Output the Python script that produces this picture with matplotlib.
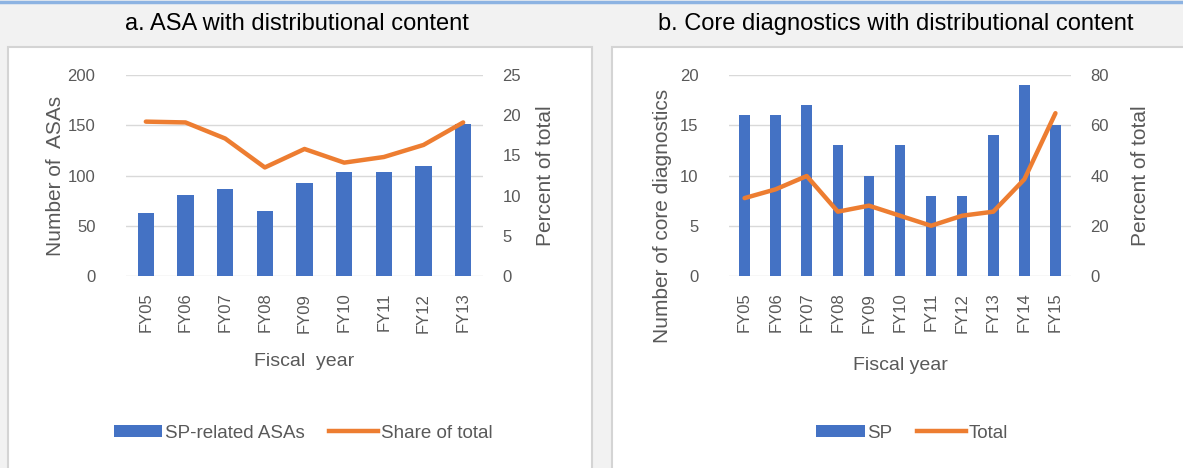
import matplotlib.pyplot as plt
from matplotlib.patches import Rectangle
from matplotlib.lines import Line2D
from matplotlib import font_manager

# --- data ---
years_a = ["FY05", "FY06", "FY07", "FY08", "FY09", "FY10", "FY11", "FY12", "FY13"]
asa_counts = [63, 81, 87, 65, 93, 103, 103, 109, 151]
asa_share = [19.2, 19.1, 17.1, 13.5, 15.8, 14.1, 14.8, 16.3, 19.1]

years_b = ["FY05", "FY06", "FY07", "FY08", "FY09", "FY10", "FY11", "FY12",
           "FY13", "FY14", "FY15"]
diag_counts = [16, 16, 17, 13, 10, 13, 8, 8, 14, 19, 15]
diag_share = [31.0, 34.5, 39.8, 25.6, 28.0, 24.0, 20.0, 24.0, 25.6, 38.5, 64.8]

BLUE = "#4472c4"
ORANGE = "#ed7d31"
GRAY = "#595959"
GRID = "#d9d9d9"

names = {f.name for f in font_manager.fontManager.ttflist}
narrow = "Liberation Sans Narrow" if "Liberation Sans Narrow" in names else "Liberation Sans"
plt.rcParams["font.family"] = [narrow, "DejaVu Sans"]

W, H = 1183, 468
fig = plt.figure(figsize=(W / 100, H / 100), dpi=100)
fig.patch.set_facecolor("#f2f2f2")


def px_axes(x0, y0, x1, y1):
    ax = fig.add_axes([x0 / W, 1 - y1 / H, (x1 - x0) / W, (y1 - y0) / H])
    ax.set_facecolor("none")
    return ax


# panel backgrounds and top rule
for x0, x1 in [(8, 592), (612, 1190)]:
    fig.patches.append(Rectangle((x0 / W, -0.01), (x1 - x0) / W, 1.01 - 47 / H,
                                 transform=fig.transFigure, facecolor="white",
                                 edgecolor="#d4d4d4", linewidth=1.5, zorder=-5))
fig.add_artist(Line2D([0, 1], [1 - 1.5 / H, 1 - 1.5 / H], transform=fig.transFigure,
                      color="#8db3e2", linewidth=2.5))


def draw_panel(ax, cats, counts, share, ymax, ystep, y2max, y2step, bar_w,
               ylabel, xlabel, ylab_pos, y2lab_x, xlab_y):
    x = list(range(len(cats)))
    ax.bar(x, counts, width=bar_w, color=BLUE, zorder=2)
    ax.set_xlim(-0.5, len(cats) - 0.5)
    ax.set_ylim(0, ymax)
    ax.set_yticks(range(0, ymax + 1, ystep))
    ax.grid(axis="y", color=GRID, linewidth=1, zorder=0)
    ax.set_axisbelow(True)
    for s in ax.spines.values():
        s.set_visible(False)
    ax.tick_params(axis="both", length=0, colors=GRAY, labelsize=12)
    ax.tick_params(axis="y", pad=22)
    ax.set_xticks(x)
    ax.set_xticklabels(cats, rotation=90, fontsize=12)
    ax.tick_params(axis="x", pad=12)
    ax.set_ylabel(ylabel, color=GRAY, fontsize=15, va="center")
    ax.yaxis.set_label_coords(*ylab_pos)
    ax.set_xlabel(xlabel, color=GRAY, fontsize=14, va="center")
    ax.xaxis.set_label_coords(0.5, xlab_y)

    ax2 = ax.twinx()
    ax2.set_facecolor("none")
    ax2.plot(x, share, color=ORANGE, linewidth=3.2, solid_capstyle="round", zorder=3)
    ax2.set_ylim(0, y2max)
    ax2.set_yticks(range(0, y2max + 1, y2step))
    for s in ax2.spines.values():
        s.set_visible(False)
    ax2.tick_params(axis="y", length=0, colors=GRAY, labelsize=12, pad=14)
    ax2.set_ylabel("Percent of total", color=GRAY, fontsize=15)
    ax2.yaxis.label.set_va("center")
    ax2.yaxis.set_label_coords(y2lab_x, 0.5)
    return ax2


ax_a = px_axes(126, 75, 483, 276)
draw_panel(ax_a, years_a, asa_counts, asa_share, 200, 50, 25, 5, 0.42,
           "Number of  ASAs", "Fiscal  year",
           ((55 - 126) / 357, 0.5), (546 - 126) / 357, (276 - 362) / 201)

ax_b = px_axes(729, 75, 1071, 276)
draw_panel(ax_b, years_b, diag_counts, diag_share, 20, 5, 80, 20, 0.34,
           "Number of core diagnostics", "Fiscal year",
           ((662 - 729) / 342, (276 - 216) / 201), (1140 - 729) / 342,
           (276 - 365) / 201)

# titles
fig.text(297 / W, 1 - 24 / H, "a. ASA with distributional content",
         ha="center", va="center", fontsize=17, family=["Liberation Sans", "DejaVu Sans"])
fig.text(896 / W, 1 - 24 / H, "b. Core diagnostics with distributional content",
         ha="center", va="center", fontsize=17, family=["Liberation Sans", "DejaVu Sans"])


# legends
def add_legend(labels, cx):
    handles = [Rectangle((0, 0), 1, 1, facecolor=BLUE),
               Line2D([0], [0], color=ORANGE, linewidth=3.2)]
    leg = fig.legend(handles, labels, loc="center", bbox_to_anchor=(cx / W, 1 - 433 / H),
                     ncol=2, frameon=False, fontsize=13.5, handlelength=2.6,
                     handleheight=0.55, handletextpad=0.15, columnspacing=1.3)
    for t in leg.get_texts():
        t.set_color(GRAY)


add_legend(["SP-related ASAs", "Share of total"], 303)
add_legend(["SP", "Total"], 912)

fig.savefig("out.png", dpi=100, facecolor=fig.get_facecolor())
